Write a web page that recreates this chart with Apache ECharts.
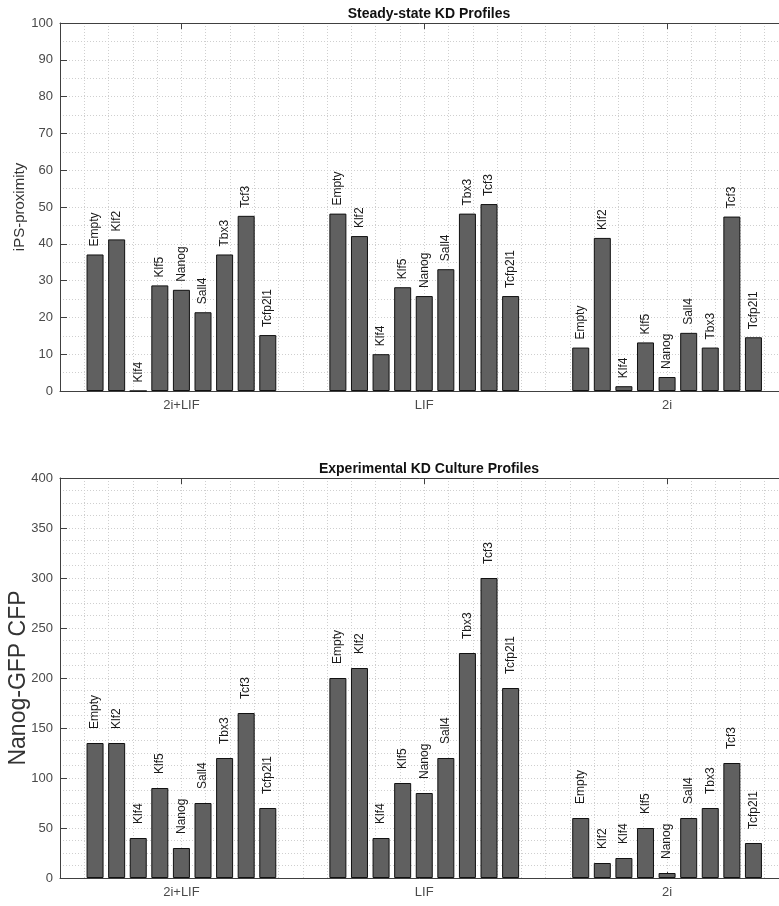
<!DOCTYPE html>
<html>
<head>
<meta charset="utf-8">
<script src="https://cdn.jsdelivr.net/npm/echarts@6/dist/echarts.min.js"></script>
<style>
  html, body { margin: 0; padding: 0; background: #fff; }
  #chart { width: 779px; height: 906px; }
</style>
</head>
<body>
<div id="chart"></div>
<script>
// Culture conditions (x categories) and knockdown targets (one bar per target)
const conditions = ['2i+LIF', 'LIF', '2i'];
const knockdowns = ['Empty', 'Klf2', 'Klf4', 'Klf5', 'Nanog', 'Sall4', 'Tbx3', 'Tcf3', 'Tcfp2l1'];

// Steady-state iPS-proximity, one array per condition, in knockdown order
const steady2iLIF = [37.1, 41.2, 0, 28.7, 27.5, 21.4, 37.1, 47.6, 15.2];
const steadyLIF   = [48.2, 42.1, 10.0, 28.2, 25.8, 33.1, 48.2, 50.8, 25.8];
const steady2i    = [11.8, 41.6, 1.3, 13.2, 3.8, 15.8, 11.8, 47.4, 14.6];

// Experimental Nanog-GFP CFP, one array per condition, in knockdown order
const culture2iLIF = [135, 135, 40, 90, 30, 75, 120, 165, 70];
const cultureLIF   = [200, 210, 40, 95, 85, 120, 225, 300, 190];
const culture2i    = [60, 15, 20, 50, 5, 60, 70, 115, 35];

// Axis tick settings
const steadyTicks = { min: 0, max: 100, interval: 10 };
const cultureTicks = { min: 0, max: 400, interval: 50 };

const FONT = '"Liberation Sans", Arial, Helvetica, sans-serif';
const AXIS_COLOR = '#404040';
const GRID_COLOR = '#cfcfcf';
const TICK_TEXT = '#4a4a4a';

function barSeries(rows, axisIndex, labelDistance) {
  return knockdowns.map((name, k) => ({
    name: name,
    type: 'bar',
    xAxisIndex: axisIndex * 3,
    yAxisIndex: axisIndex,
    data: rows.map(r => r[k]),
    barWidth: 17,
    barGap: '27%',
    itemStyle: { color: '#606060', borderColor: '#111', borderWidth: 1 },
    label: {
      show: true,
      position: 'top',
      distance: labelDistance,
      rotate: 90,
      align: 'left',
      verticalAlign: 'middle',
      formatter: '{a}',
      fontFamily: FONT,
      fontSize: 12,
      color: '#1a1a1a'
    },
    emphasis: { disabled: true },
    animation: false
  }));
}

function xAxesFor(gridIndex) {
  return [
    {
      // bottom category axis carrying the bars
      type: 'category', gridIndex: gridIndex, data: conditions, position: 'bottom',
      axisLine: { lineStyle: { color: AXIS_COLOR, width: 1 } },
      axisTick: { show: true, inside: true, alignWithLabel: true, length: 6, lineStyle: { color: AXIS_COLOR } },
      axisLabel: { color: TICK_TEXT, fontFamily: FONT, fontSize: 13, margin: 8 },
      splitLine: { show: false }
    },
    {
      // top box edge with inward ticks
      type: 'category', gridIndex: gridIndex, data: conditions, position: 'top',
      axisLine: { lineStyle: { color: AXIS_COLOR, width: 1 } },
      axisTick: { show: true, inside: true, alignWithLabel: true, length: 6, lineStyle: { color: AXIS_COLOR } },
      axisLabel: { show: false },
      splitLine: { show: false }
    },
    {
      // fine vertical grid every tenth of a category
      type: 'value', gridIndex: gridIndex, min: 5, max: 35, interval: 1,
      show: true, position: 'bottom', offset: 0,
      axisLine: { show: false }, axisTick: { show: false }, axisLabel: { show: false },
      splitLine: { show: true, lineStyle: { color: GRID_COLOR, type: [1, 2], width: 1 } }
    }
  ];
}

function yAxisFor(gridIndex, ticks, name, nameSize, nameGap, minorSplits) {
  return {
    type: 'value', gridIndex: gridIndex,
    min: ticks.min, max: ticks.max, interval: ticks.interval,
    name: name, nameLocation: 'middle', nameGap: nameGap, nameMoveOverlap: false,
    nameTextStyle: { color: '#333', fontFamily: FONT, fontSize: nameSize },
    axisLine: { show: true, lineStyle: { color: AXIS_COLOR, width: 1 } },
    axisTick: { show: true, inside: true, length: 7, lineStyle: { color: AXIS_COLOR } },
    axisLabel: { color: TICK_TEXT, fontFamily: FONT, fontSize: 13, margin: 7 },
    splitLine: { show: true, lineStyle: { color: GRID_COLOR, type: [1, 2], width: 1 } },
    minorTick: { show: false, splitNumber: minorSplits },
    minorSplitLine: { show: true, lineStyle: { color: GRID_COLOR, type: [1, 2], width: 1 } }
  };
}

const chart = echarts.init(document.getElementById('chart'), null, { renderer: 'canvas' });

chart.setOption({
  animation: false,
  backgroundColor: '#ffffff',
  title: [
    {
      text: 'Steady-state KD Profiles', left: 424, top: 2, textAlign: 'center',
      textStyle: { fontFamily: FONT, fontSize: 14, fontWeight: 'bold', color: '#111' }
    },
    {
      text: 'Experimental KD Culture Profiles', left: 424, top: 457, textAlign: 'center',
      textStyle: { fontFamily: FONT, fontSize: 14, fontWeight: 'bold', color: '#111' }
    }
  ],
  grid: [
    { left: 60, top: 23, width: 728.5, height: 368, containLabel: false, outerBoundsMode: 'none' },
    { left: 60, top: 478, width: 728.5, height: 400, containLabel: false, outerBoundsMode: 'none' }
  ],
  xAxis: xAxesFor(0).concat(xAxesFor(1)),
  yAxis: [
    yAxisFor(0, steadyTicks, 'iPS-proximity', 15, 33, 2),
    yAxisFor(1, cultureTicks, 'Nanog-GFP CFP', 23, 30, 4)
  ],
  series: barSeries([steady2iLIF, steadyLIF, steady2i], 0, 8)
    .concat(barSeries([culture2iLIF, cultureLIF, culture2i], 1, 14))
});
</script>
</body>
</html>
